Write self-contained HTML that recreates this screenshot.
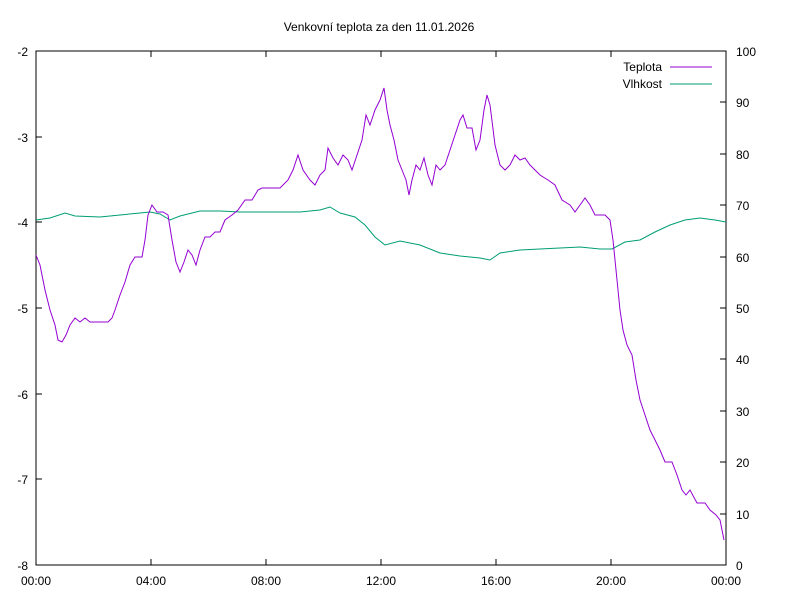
<!DOCTYPE html>
<html><head><meta charset="utf-8"><style>body{margin:0;background:#fff}svg{display:block}text{font-family:"Liberation Sans",sans-serif;font-size:12px;fill:#000}</style></head><body>
<svg width="800" height="600" viewBox="0 0 800 600">
<rect x="36" y="51" width="690" height="514" fill="none" stroke="#000" stroke-width="1"/>
<text x="379" y="31" text-anchor="middle">Venkovní teplota za den 11.01.2026</text>
<g stroke="#000" stroke-width="1">
<line x1="36" y1="51" x2="42" y2="51"/><line x1="36" y1="137" x2="42" y2="137"/><line x1="36" y1="222" x2="42" y2="222"/><line x1="36" y1="308" x2="42" y2="308"/><line x1="36" y1="394" x2="42" y2="394"/><line x1="36" y1="479" x2="42" y2="479"/>
<line x1="726" y1="51" x2="720" y2="51"/><line x1="726" y1="102" x2="720" y2="102"/><line x1="726" y1="154" x2="720" y2="154"/><line x1="726" y1="205" x2="720" y2="205"/><line x1="726" y1="257" x2="720" y2="257"/><line x1="726" y1="308" x2="720" y2="308"/><line x1="726" y1="359" x2="720" y2="359"/><line x1="726" y1="411" x2="720" y2="411"/><line x1="726" y1="462" x2="720" y2="462"/><line x1="726" y1="514" x2="720" y2="514"/>
<line x1="151" y1="565" x2="151" y2="559"/><line x1="266" y1="565" x2="266" y2="559"/><line x1="381" y1="565" x2="381" y2="559"/><line x1="496" y1="565" x2="496" y2="559"/><line x1="611" y1="565" x2="611" y2="559"/>
<line x1="151" y1="51" x2="151" y2="57"/><line x1="266" y1="51" x2="266" y2="57"/><line x1="381" y1="51" x2="381" y2="57"/><line x1="496" y1="51" x2="496" y2="57"/><line x1="611" y1="51" x2="611" y2="57"/>
</g>
<g text-anchor="end">
<text x="28" y="56">-2</text><text x="28" y="142">-3</text><text x="28" y="227">-4</text><text x="28" y="313">-5</text><text x="28" y="399">-6</text><text x="28" y="484">-7</text><text x="28" y="570">-8</text>
</g>
<g text-anchor="start">
<text x="736" y="56">100</text><text x="736" y="107">90</text><text x="736" y="159">80</text><text x="736" y="210">70</text><text x="736" y="262">60</text><text x="736" y="313">50</text><text x="736" y="364">40</text><text x="736" y="416">30</text><text x="736" y="467">20</text><text x="736" y="519">10</text><text x="736" y="570">0</text>
</g>
<g text-anchor="middle">
<text x="36" y="585">00:00</text><text x="151" y="585">04:00</text><text x="266" y="585">08:00</text><text x="381" y="585">12:00</text><text x="496" y="585">16:00</text><text x="611" y="585">20:00</text><text x="726" y="585">00:00</text>
</g>
<text x="662" y="71" text-anchor="end">Teplota</text>
<line x1="670" y1="67" x2="712" y2="67" stroke="#9400d3"/>
<text x="662" y="88" text-anchor="end">Vlhkost</text>
<line x1="670" y1="84" x2="712" y2="84" stroke="#009e73"/>
<polyline fill="none" stroke="#009e73" stroke-width="1" points="36,220 50,218 65,213 75,216 100,217 120,215 140,213 150,212 160,214 170,220 180,216 200,211 220,211 240,212 260,212 300,212 320,210 330,207 340,213 355,217 365,225 375,237 385,245 400,241 420,245 440,253 460,256 480,258 490,260 500,253 520,250 560,248 580,247 600,249 612,249 625,242 640,240 655,232 670,225 685,220 700,218 715,220 726,222"/>
<polyline fill="none" stroke="#9400d3" stroke-width="1" points="36,255 40,265 45,290 50,310 55,325 58,340 62,342 66,335 70,325 75,318 80,322 85,318 90,322 100,322 108,322 112,318 115,310 120,295 125,282 130,265 135,257 142,257 145,240 148,215 152,205 157,212 163,212 168,215 172,240 176,262 180,272 184,262 188,250 192,255 196,265 200,250 205,237 210,237 215,232 220,232 225,220 232,215 238,210 245,200 252,200 258,190 262,188 268,188 280,188 288,180 293,170 298,155 303,170 310,180 315,185 320,175 325,170 328,148 333,158 338,165 343,155 348,160 352,170 357,155 362,140 366,115 370,125 375,110 380,100 384,88 387,110 390,125 394,140 398,160 402,170 406,180 409,195 412,180 416,165 420,170 424,158 428,175 432,185 436,165 440,170 445,165 450,150 455,135 460,120 463,115 467,128 472,128 476,150 480,140 484,110 487,95 490,105 495,145 500,165 505,170 510,165 515,155 520,160 525,158 530,165 540,175 548,180 555,185 562,200 570,205 575,212 580,205 585,198 590,205 595,215 605,215 610,220 613,240 617,280 620,310 623,330 627,345 632,355 636,380 640,400 645,415 650,430 655,440 660,450 665,462 672,462 677,475 682,490 686,495 690,490 697,503 705,503 710,510 716,515 720,520 724,540"/>
</svg>
</body></html>
